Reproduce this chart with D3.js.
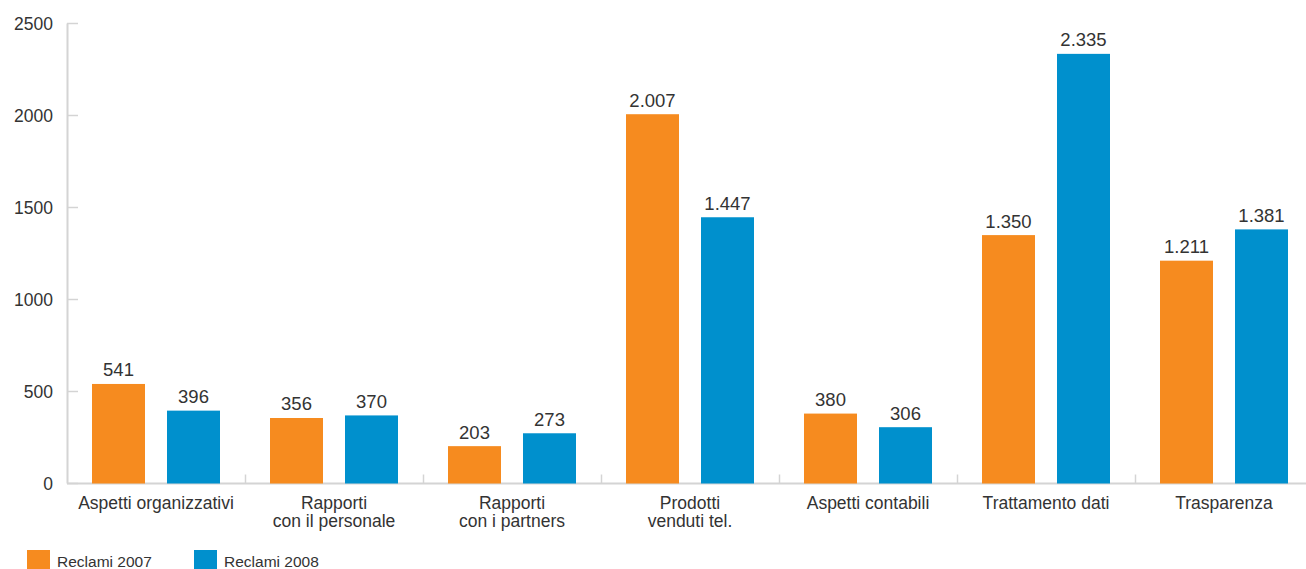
<!DOCTYPE html>
<html>
<head>
<meta charset="utf-8">
<script src="https://cdn.jsdelivr.net/npm/d3@7"></script>
<style>
  html, body { margin: 0; padding: 0; background: #fff; }
  svg { display: block; font-family: "Liberation Sans", Arial, sans-serif; }
</style>
</head>
<body>
<svg id="chart" width="1306" height="569"></svg>
<script>
// Reclami per area, 2007 vs 2008
const categories = [
  ["Aspetti organizzativi"],
  ["Rapporti", "con il personale"],
  ["Rapporti", "con i partners"],
  ["Prodotti", "venduti tel."],
  ["Aspetti contabili"],
  ["Trattamento dati"],
  ["Trasparenza"]
];
const reclami2007 = [541, 356, 203, 2007, 380, 1350, 1211];
const reclami2008 = [396, 370, 273, 1447, 306, 2335, 1381];
const yTicks = [0, 500, 1000, 1500, 2000, 2500];
const seriesNames = ["Reclami 2007", "Reclami 2008"];
const colors = ["#F68B1F", "#0090CD"];

(function () {
  const svg = d3.select("#chart");
  const plotLeft = 67, plotTop = 23.5, plotBottom = 483.5;
  const bandW = 178;

  const itLocale = d3.formatLocale({ decimal: ",", thousands: ".", grouping: [3], currency: ["€", ""] });
  const fmt = itLocale.format(",d");

  const x = d3.scaleBand()
    .domain(d3.range(categories.length))
    .range([plotLeft, plotLeft + bandW * categories.length])
    .paddingInner(0).paddingOuter(0);

  const xs = d3.scaleBand()
    .domain([0, 1])
    .range([0, bandW])
    .paddingInner(22 / 75)
    .paddingOuter(25 / 75);

  const y = d3.scaleLinear().domain([0, 2500]).range([plotBottom, plotTop]);

  const gridColor = "#d4d4d4";
  const textColor = "#333";

  // y axis line + inward ticks
  svg.append("line")
    .attr("x1", plotLeft + 0.5).attr("x2", plotLeft + 0.5)
    .attr("y1", y(2500)).attr("y2", plotBottom)
    .attr("stroke", gridColor).attr("stroke-width", 2);

  const yAxis = svg.append("g");
  yAxis.selectAll("line").data(yTicks).join("line")
    .attr("x1", plotLeft).attr("x2", plotLeft + 11)
    .attr("y1", d => y(d)).attr("y2", d => y(d))
    .attr("stroke", gridColor).attr("stroke-width", 1.5);
  yAxis.selectAll("text").data(yTicks).join("text")
    .attr("x", 53).attr("y", d => y(d) + 6)
    .attr("text-anchor", "end")
    .attr("font-size", 17.5).attr("fill", textColor)
    .text(d => d);

  // baseline
  svg.append("line")
    .attr("x1", plotLeft).attr("x2", 1306)
    .attr("y1", plotBottom).attr("y2", plotBottom)
    .attr("stroke", gridColor).attr("stroke-width", 2);

  // category separators
  svg.append("g").selectAll("line").data(d3.range(1, categories.length)).join("line")
    .attr("x1", d => x(d) + 0.5).attr("x2", d => x(d) + 0.5)
    .attr("y1", plotBottom - 9).attr("y2", plotBottom)
    .attr("stroke", gridColor).attr("stroke-width", 1.5);

  // bars
  const groups = svg.append("g").selectAll("g").data(categories.map((c, i) => i)).join("g")
    .attr("transform", i => `translate(${x(i)},0)`);

  const series = [reclami2007, reclami2008];
  groups.selectAll("rect").data(i => series.map((s, k) => ({ k, v: s[i] }))).join("rect")
    .attr("x", d => xs(d.k))
    .attr("width", xs.bandwidth())
    .attr("y", d => y(d.v))
    .attr("height", d => plotBottom - y(d.v))
    .attr("fill", d => colors[d.k]);

  groups.selectAll("text.val").data(i => series.map((s, k) => ({ k, v: s[i] }))).join("text")
    .attr("class", "val")
    .attr("x", d => xs(d.k) + xs.bandwidth() / 2)
    .attr("y", d => y(d.v) - 7.5)
    .attr("text-anchor", "middle")
    .attr("font-size", 18.5).attr("fill", textColor)
    .text(d => fmt(d.v));

  // category labels
  groups.append("text")
    .attr("class", "cat")
    .attr("text-anchor", "middle")
    .attr("font-size", 17.5).attr("fill", textColor)
    .selectAll("tspan").data(i => categories[i]).join("tspan")
    .attr("x", bandW / 2)
    .attr("y", (d, j) => 509 + j * 18)
    .text(d => d);

  // legend
  const legend = svg.append("g").selectAll("g").data(seriesNames).join("g")
    .attr("transform", (d, i) => `translate(${27 + i * 167},550)`);
  legend.append("rect").attr("width", 23).attr("height", 19).attr("fill", (d, i) => colors[i]);
  legend.append("text").attr("x", 30).attr("y", 17)
    .attr("font-size", 15.5).attr("fill", textColor).text(d => d);
})();
</script>
</body>
</html>
